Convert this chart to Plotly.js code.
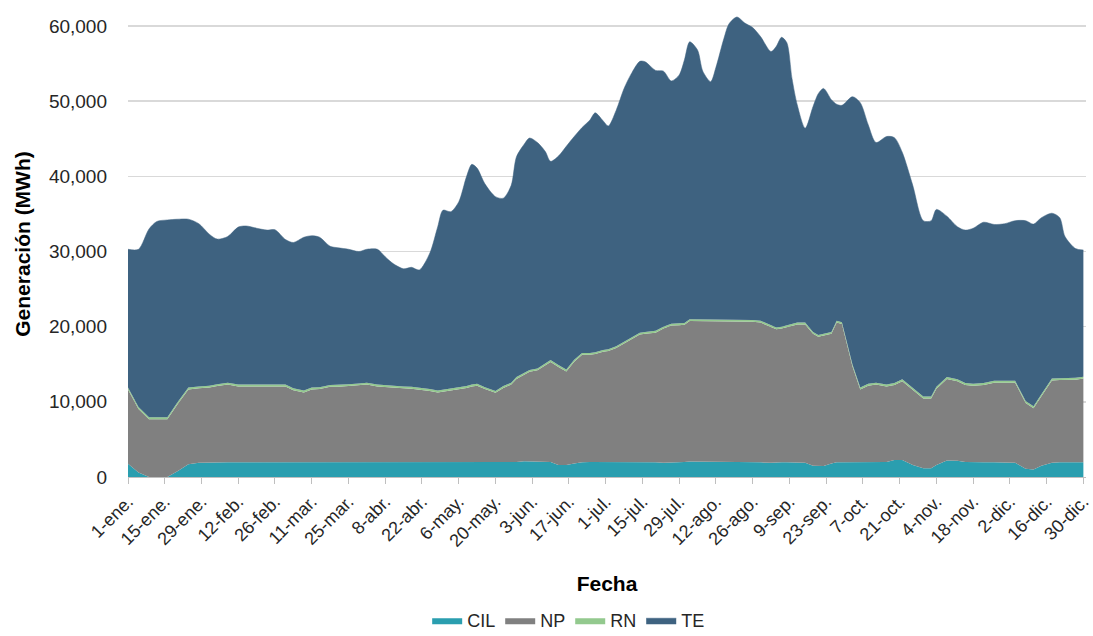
<!DOCTYPE html>
<html>
<head>
<meta charset="utf-8">
<script src="https://cdn.plot.ly/plotly-3.0.1.min.js"></script>
<style>
html,body{margin:0;padding:0;background:#fff;}
#chart{width:1093px;height:636px;}
</style>
</head>
<body>
<div id="chart"></div>
<script>
// Day of year (0 = 1-ene.) of each sampled point
const days = [0,4,8,11,15,19,23,27,31,34,38,42,45,49,53,56,60,63,67,70,73,77,80,84,88,91,95,98,101,105,108,111,115,118,120,123,126,129,131,133,136,140,143,146,148,151,153,156,159,161,164,167,170,173,176,178,181,183,186,189,192,195,197,201,204,207,210,212,214,217,219,222,224,227,229,232,235,238,241,245,247,249,251,253,255,258,261,263,265,268,270,272,276,279,282,285,289,292,295,299,303,306,308,312,316,319,322,326,330,334,338,342,345,348,352,355,357,361,364];

// Generación (MWh) by type
const cil = [1750,600,0,0,0,800,1700,1900,1950,1950,1950,1950,1950,1950,1950,1950,1950,1950,1950,1950,1950,1950,1950,1950,1950,1950,1950,1950,1950,1950,1950,1950,1950,1950,1950,1950,1950,1950,1950,1950,1950,1950,1950,1950,2000,2100,2100,2100,2100,2000,1600,1600,1800,1950,2000,2000,2000,2000,2050,2050,2000,1950,1950,1950,1900,1900,1950,2000,2050,2050,2000,2000,2000,2000,2000,2000,2000,1950,1950,1900,1950,1950,1950,1950,1950,1900,1500,1450,1450,1800,1950,1950,1950,1950,2000,2050,2000,2250,2250,1600,1150,1150,1600,2200,2150,2000,1950,1950,1950,1950,1900,1100,1000,1500,1900,1950,1950,1950,1950];

const np = [9900,8450,7700,7700,7700,8950,9950,9900,9950,10150,10350,10100,10100,10100,10100,10100,10100,9600,9300,9700,9750,10050,10050,10150,10250,10350,10100,10000,9900,9850,9800,9700,9500,9300,9400,9650,9800,9900,10100,10200,9750,9250,9900,10350,11050,11550,11900,12100,12750,13300,13050,12450,13550,14300,14250,14350,14650,14750,15100,15700,16450,17000,17100,17250,17850,18250,18250,18250,18700,18700,18700,18650,18650,18650,18650,18650,18650,18700,18600,18050,17700,17800,18000,18200,18350,18400,17550,17200,17400,17250,18600,18400,12800,9700,10150,10250,10050,10000,10500,9950,9300,9300,10150,10850,10600,10250,10200,10300,10600,10600,10650,8750,8150,9250,10950,10950,10950,11000,11150];

const rn = [250,250,250,250,250,250,250,250,250,250,250,250,250,250,250,250,250,250,250,250,250,250,250,250,250,250,250,250,250,250,250,250,250,250,250,250,250,250,250,250,250,250,250,250,250,250,250,250,250,250,250,250,250,250,250,250,250,250,250,250,250,250,250,250,250,250,250,250,250,250,250,250,250,250,250,250,250,250,250,250,250,250,250,250,250,250,250,250,250,250,250,250,250,250,250,250,250,250,250,250,250,250,250,250,250,250,250,250,250,250,250,250,250,250,250,250,250,250,250];

const te = [18400,21000,25050,26050,26250,24300,22400,21650,20150,19300,19450,20950,21100,20800,20550,20600,19300,19400,20400,20200,19950,18450,18250,17950,17550,17750,18000,17100,16300,15650,15900,15650,18100,21800,23900,23450,24600,27900,29300,28700,27050,25850,25000,26250,29300,30400,30850,30050,28200,26450,27800,29700,29700,30000,31000,31850,30500,29700,31400,33700,35100,36100,35950,34650,34000,32300,33050,35000,36900,35800,33050,31700,33600,37400,39400,40300,39500,38900,37800,36400,37400,38500,37600,32600,28950,25850,30000,32100,32600,30900,28800,28850,35600,37900,34500,31950,33000,32650,30200,27000,23400,23400,23600,21400,20300,20350,20700,21400,20800,20900,21300,24000,24250,23500,22000,21350,18850,17200,16850];

// Tick labels every 14 days
const tickDays = [0,14,28,42,56,70,84,98,112,126,140,154,168,182,196,210,224,238,252,266,280,294,308,322,336,350,364];
const tickLabels = ["1-ene.","15-ene.","29-ene.","12-feb.","26-feb.","11-mar.","25-mar.","8-abr.","22-abr.","6-may.","20-may.","3-jun.","17-jun.","1-jul.","15-jul.","29-jul.","12-ago.","26-ago.","9-sep.","23-sep.","7-oct.","21-oct.","4-nov.","18-nov.","2-dic.","16-dic.","30-dic."];

const seriesNames = ["CIL","NP","RN","TE"];
const colors = ["#2A9EAF","#808080","#93C98E","#3E6280"];
const values = [cil, np, rn, te];

const FONT = "'Liberation Sans', Arial, sans-serif";

const traces = seriesNames.map((n, i) => ({
  type: "scatter",
  mode: "lines",
  name: n,
  x: days,
  y: values[i],
  stackgroup: "one",
  fillcolor: colors[i],
  line: {color: colors[i], width: i === 3 ? 0.5 : 0, shape: i === 3 ? "spline" : "linear", smoothing: 0.8},
  hoverinfo: "skip"
}));

const layout = {
  width: 1093,
  height: 636,
  margin: {l: 128, r: 7, t: 11, b: 159, autoexpand: false},
  paper_bgcolor: "#ffffff",
  plot_bgcolor: "#ffffff",
  font: {family: FONT, color: "#262626", size: 19},
  showlegend: true,
  legend: {
    orientation: "h",
    x: 0.46, xanchor: "center",
    y: -0.308, yanchor: "middle",
    font: {family: FONT, size: 18, color: "#262626"},
    traceorder: "normal",
    itemwidth: 30
  },
  xaxis: {
    range: [0, 365],
    tickmode: "array",
    tickvals: tickDays,
    ticktext: tickLabels,
    tickangle: -45,
    ticks: "outside",
    ticklen: 6,
    tickcolor: "#BFBFBF",
    showline: true,
    linecolor: "#BFBFBF",
    linewidth: 1,
    showgrid: false,
    zeroline: false,
    automargin: false,
    tickfont: {family: FONT, size: 18, color: "#262626"},
    title: {text: "<b>Fecha</b>", font: {family: FONT, size: 21, color: "#000000"}, standoff: 26}
  },
  yaxis: {
    range: [0, 62000],
    tickmode: "linear",
    tick0: 0,
    dtick: 10000,
    tickformat: ",d",
    showgrid: true,
    gridcolor: "#D9D9D9",
    gridwidth: 1.5,
    zeroline: false,
    showline: false,
    ticks: "",
    automargin: false,
    ticklabelstandoff: 20,
    tickfont: {family: FONT, size: 19, color: "#262626"},
    title: {text: "<b>Generación (MWh)</b>", font: {family: FONT, size: 21, color: "#000000"}, standoff: 12}
  }
};

Plotly.newPlot("chart", traces, layout, {displayModeBar: false, staticPlot: true});
</script>
</body>
</html>
